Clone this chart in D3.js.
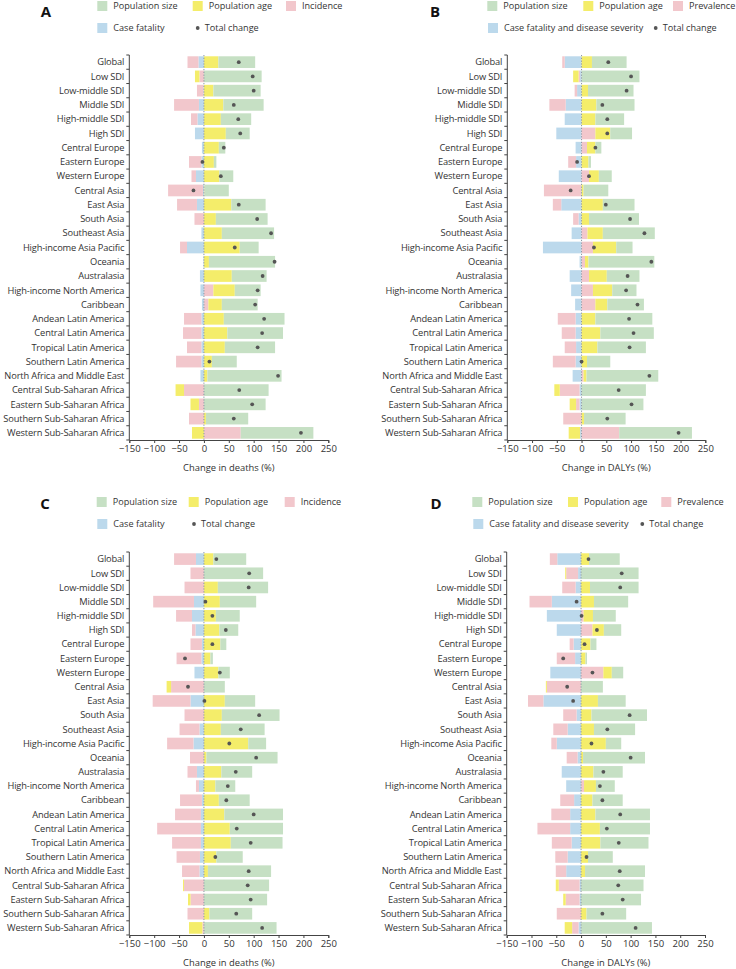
<!DOCTYPE html>
<html><head><meta charset="utf-8">
<script src="https://cdn.jsdelivr.net/npm/d3@7/dist/d3.min.js"></script>
<style>
body{margin:0;background:#fff;}
svg{display:block;font-family:"Open Sans",sans-serif;}
</style></head>
<body>
<svg id="chart" width="736" height="969"></svg>
<script>
const categories = ["Global","Low SDI","Low-middle SDI","Middle SDI","High-middle SDI","High SDI","Central Europe","Eastern Europe","Western Europe","Central Asia","East Asia","South Asia","Southeast Asia","High-income Asia Pacific","Oceania","Australasia","High-income North America","Caribbean","Andean Latin America","Central Latin America","Tropical Latin America","Southern Latin America","North Africa and Middle East","Central Sub-Saharan Africa","Eastern Sub-Saharan Africa","Southern Sub-Saharan Africa","Western Sub-Saharan Africa"];
const xTicks = [-150,-100,-50,0,50,100,150,200,250];

// Panel A: change in deaths
const aFatality = [-11,0,-1,-10,-13,-18,-4,-5,-16,-2,-14,0,-5,-34,-1,-8,-7,-4,-5,-5,-5,-5,-7,0,0,0,0];
const aIncidence = [-22,-9,-13,-50,-13,0,0,-25,-9,-70,-40,-19,0,-14,0,0,19,9,-35,-37,-29,-51,0,-40,-10,-30,74];
const aAge = [29,-9,19,39,34,44,30,20,31,1,55,24,36,72,10,56,43,27,40,47,42,16,7,-17,-17,4,-24];
const aSize = [74,116,95,81,61,48,13,5,28,49,69,104,105,38,133,70,52,72,122,112,101,50,149,130,124,85,146];
const aTotal = [70,98,100,60,69,73,40,-3,34,-21,70,107,135,62,142,118,108,103,121,117,108,11,149,71,97,60,195];

// Panel B: change in DALYs
const bFatality = [-34,-3,-9,-32,-34,-51,-12,-11,-46,-1,-41,-6,-20,-78,-4,-24,-21,-13,-12,-12,-11,-12,-18,-4,-4,0,-3];
const bPrevalence = [-5,-3,-5,-33,0,28,11,-16,15,-75,-17,-11,12,23,7,15,23,28,-36,-28,-23,-46,4,-40,-7,-37,76];
const bAge = [21,-11,13,30,28,30,17,14,20,4,43,15,31,47,7,36,39,24,28,38,32,11,6,-11,-13,5,-23];
const bSize = [70,117,92,77,58,44,12,5,26,50,64,101,105,33,133,66,49,74,115,108,98,47,145,130,125,84,147];
const bTotal = [54,100,91,42,52,52,28,-9,15,-22,49,98,127,25,141,93,90,113,96,105,97,0,137,75,101,52,196];

// Panel C: change in deaths
const cFatality = [-16,0,0,-20,-24,-17,-4,-5,-19,0,-27,0,-9,-21,0,-14,-10,-4,-6,-6,-6,-8,-9,0,0,0,0];
const cIncidence = [-44,-27,-39,-82,-32,-7,-23,-50,0,-66,-76,-39,-40,-53,-28,-19,-6,-44,-52,-88,-58,-47,-35,-40,-27,-33,-3];
const cAge = [19,0,28,32,24,31,33,13,29,-9,42,36,34,89,5,35,23,30,41,52,54,25,8,-2,-5,11,-27];
const cSize = [66,119,101,73,48,38,12,5,23,42,61,116,88,36,143,62,40,62,118,107,104,53,127,131,127,86,146];
const cTotal = [25,91,90,3,17,44,17,-38,32,-32,1,111,74,51,105,64,48,45,100,66,94,23,90,88,94,65,117];

// Panel D: change in DALYs
const dFatality = [-48,-6,-11,-59,-69,-49,-15,-12,-62,0,-76,-9,-27,-49,-7,-39,-30,-14,-22,-22,-19,-27,-30,-3,-3,0,-5];
const dPrevalence = [-15,-24,-27,-45,5,23,-8,-37,45,-69,-31,-27,-29,-11,-22,0,6,-28,-38,-66,-40,-25,-21,-42,-28,-49,-13];
const dAge = [16,-2,18,26,19,23,19,9,17,-2,34,21,26,50,4,25,24,23,29,38,39,14,8,-6,-5,11,-15];
const dSize = [62,116,98,69,46,35,12,3,23,44,56,112,83,31,125,59,38,61,110,101,97,50,121,126,121,80,143];
const dTotal = [15,82,79,-9,1,32,7,-36,23,-28,-16,98,53,21,100,45,38,43,79,52,76,11,78,75,84,43,110];

const colors = {fatality:"#bcd9ec", incidence:"#f2c7cc", age:"#f4ed6a", size:"#c6e0c4"};
const keys = ["fatality","incidence","age","size"];

const svg = d3.select("#chart");
svg.append("rect").attr("width",736).attr("height",969).attr("fill","#fff");

const panels = [
  {letter:"A", fatality:aFatality, incidence:aIncidence, age:aAge, size:aSize, total:aTotal,
   x0:129.3, x1:328.3, y0:55, y1:440, xTitle:"Change in deaths (%)",
   letterX:46, letterY:12, row1:6, row2:28,
   items:[["size",113.3,1],["age",208.7,1],["incidence",302,1],["fatality",113.3,2],["total",204.7,2]],
   names:{size:"Population size",age:"Population age",incidence:"Incidence",fatality:"Case fatality",total:"Total change"}},
  {letter:"B", fatality:bFatality, incidence:bPrevalence, age:bAge, size:bSize, total:bTotal,
   x0:507.3, x1:705.3, y0:55, y1:440, xTitle:"Change in DALYs (%)",
   letterX:435, letterY:12, row1:6, row2:28,
   items:[["size",503.3,1],["age",599.3,1],["incidence",689,1],["fatality",504,2],["total",662.7,2]],
   names:{size:"Population size",age:"Population age",incidence:"Prevalence",fatality:"Case fatality and disease severity",total:"Total change"}},
  {letter:"C", fatality:cFatality, incidence:cIncidence, age:cAge, size:cSize, total:cTotal,
   x0:129.3, x1:328.3, y0:552, y1:935, xTitle:"Change in deaths (%)",
   letterX:45, letterY:504, row1:502, row2:524,
   items:[["size",112.7,1],["age",204.7,1],["incidence",300.7,1],["fatality",113.3,2],["total",201,2]],
   names:{size:"Population size",age:"Population age",incidence:"Incidence",fatality:"Case fatality",total:"Total change"}},
  {letter:"D", fatality:dFatality, incidence:dPrevalence, age:dAge, size:dSize, total:dTotal,
   x0:506.7, x1:705, y0:552, y1:935, xTitle:"Change in DALYs (%)",
   letterX:436, letterY:504, row1:502, row2:524,
   items:[["size",488.3,1],["age",584,1],["incidence",677.3,1],["fatality",489.3,2],["total",649.3,2]],
   names:{size:"Population size",age:"Population age",incidence:"Prevalence",fatality:"Case fatality and disease severity",total:"Total change"}}
];

const axisColor = "#444";
const textColor = "#333";

panels.forEach(p => {
  const rows = categories.map((c,i)=>({cat:c, fatality:p.fatality[i], incidence:p.incidence[i], age:p.age[i], size:p.size[i], total:p.total[i]}));
  const x = d3.scaleLinear().domain([-150,250]).range([p.x0,p.x1]);
  const y = d3.scaleBand().domain(categories).range([p.y0,p.y1]).paddingInner(0.18).paddingOuter(0.09);
  const step = y.step();
  const g = svg.append("g");

  const series = d3.stack().keys(keys).offset(d3.stackOffsetDiverging)(rows);
  series.forEach(s => {
    g.append("g").selectAll("rect").data(s).join("rect")
      .attr("x", d => x(Math.min(d[0],d[1])))
      .attr("width", d => Math.abs(x(d[1])-x(d[0])))
      .attr("y", d => y(d.data.cat))
      .attr("height", y.bandwidth())
      .attr("fill", colors[s.key]);
  });

  // zero dotted line
  g.append("line").attr("x1",x(0)).attr("x2",x(0)).attr("y1",p.y0).attr("y2",p.y1)
    .attr("stroke","#8a96a3").attr("stroke-width",1).attr("stroke-dasharray","1.2,1.6");

  // total dots
  g.append("g").selectAll("circle").data(rows).join("circle")
    .attr("cx", d=>x(d.total)).attr("cy", d=>y(d.cat)+y.bandwidth()/2)
    .attr("r",1.9).attr("fill","#555");

  // y axis
  g.append("line").attr("x1",p.x0).attr("x2",p.x0).attr("y1",p.y0).attr("y2",p.y1).attr("stroke",axisColor);
  d3.range(categories.length+1).forEach(i=>{
    g.append("line").attr("x1",p.x0-3).attr("x2",p.x0).attr("y1",p.y0+i*step).attr("y2",p.y0+i*step).attr("stroke",axisColor);
  });
  g.append("g").selectAll("text").data(categories).join("text")
    .attr("x",p.x0-5).attr("y",d=>y(d)+y.bandwidth()/2).attr("dy","0.35em")
    .attr("text-anchor","end").attr("font-size",9.3).attr("letter-spacing",-0.15).attr("fill",textColor).text(d=>d);

  // x axis
  const xa = g.append("g").attr("transform",`translate(0,${p.y1})`)
    .call(d3.axisBottom(x).tickValues(xTicks).tickSize(3).tickPadding(2).tickFormat(d3.format("")));
  xa.select(".domain").attr("stroke",axisColor);
  xa.selectAll(".tick line").attr("stroke",axisColor);
  xa.selectAll("text").attr("font-size",9.5).attr("fill",textColor).attr("font-family","Open Sans");
  g.append("text").attr("x",(p.x0+p.x1)/2).attr("y",p.y1+31).attr("text-anchor","middle")
    .attr("font-size",9.4).attr("fill",textColor).text(p.xTitle);

  // letter
  g.append("text").attr("x",p.letterX).attr("y",p.letterY).attr("dy","0.35em").attr("text-anchor","middle")
    .attr("font-size",15).attr("font-weight","bold").attr("fill","#111").text(p.letter);

  // legend
  p.items.forEach(([k,tx,row])=>{
    const cy = row===1 ? p.row1 : p.row2;
    if(k==="total"){
      g.append("circle").attr("cx",tx-7).attr("cy",cy).attr("r",1.9).attr("fill","#555");
    } else {
      g.append("rect").attr("x",tx-16).attr("y",cy-5).attr("width",10).attr("height",10).attr("fill",colors[k]);
    }
    g.append("text").attr("x",tx).attr("y",cy).attr("dy","0.35em").attr("font-size",9.1).attr("fill",textColor).text(p.names[k]);
  });
});
</script>
</body></html>
